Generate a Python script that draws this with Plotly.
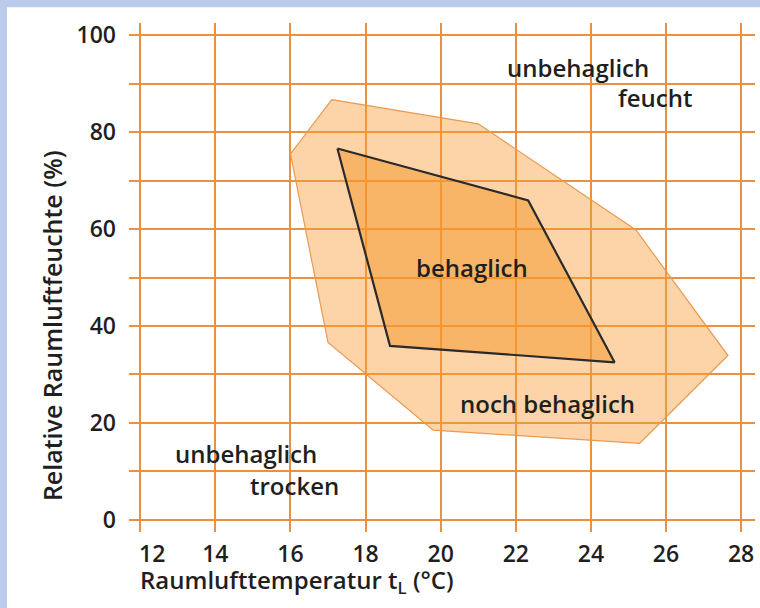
import plotly.graph_objects as go

# --- data ---
outer_t = [17.1, 21.0, 25.2, 27.65, 25.3, 19.8, 17.0, 16.0]
outer_rh = [86.7, 81.7, 59.8, 33.9, 15.8, 18.5, 36.6, 75.5]
inner_t = [17.25, 22.33, 24.63, 18.65]
inner_rh = [76.6, 65.9, 32.5, 35.9]
x_ticks = [12, 14, 16, 18, 20, 22, 24, 26, 28]
x_ticktext = ["&nbsp;&nbsp;&nbsp;&nbsp;12", "14", "16", "18", "20", "22", "24", "26", "28"]
y_ticks = [0, 20, 40, 60, 80, 100]
region_labels = ["unbehaglich", "feucht", "behaglich", "noch behaglich", "unbehaglich", "trocken"]
label_t = [23.65, 25.7, 20.83, 22.85, 14.82, 16.12]
label_rh = [93.3, 87.2, 52.1, 24.1, 13.6, 7.0]

FONT = "Open Sans"
TXT = "#1f1f1f"
GRID = "#EA9141"

fig = go.Figure()
fig.add_trace(go.Scatter(
    x=outer_t + outer_t[:1], y=outer_rh + outer_rh[:1], mode="lines",
    fill="toself", fillcolor="rgba(248,160,60,0.45)",
    line=dict(color="#E99A50", width=1.2), hoverinfo="skip", showlegend=False))
fig.add_trace(go.Scatter(
    x=inner_t + inner_t[:1], y=inner_rh + inner_rh[:1], mode="lines",
    fill="toself", fillcolor="rgba(245,150,40,0.5)",
    line=dict(color="#2a2a2a", width=2.2), hoverinfo="skip", showlegend=False))

for txt, xt, yt in zip(region_labels, label_t, label_rh):
    fig.add_annotation(x=xt, y=yt, xref="x", yref="y", text=txt, showarrow=False,
                       font=dict(family=FONT, size=24, color=TXT, weight=600))

fig.add_annotation(xref="paper", yref="paper", x=0.0144, y=-0.097,
                   xanchor="left", yanchor="middle", showarrow=False,
                   text="Raumlufttemperatur t<sub>L</sub> (°C)",
                   font=dict(family=FONT, size=24, color=TXT, weight=600))
fig.add_annotation(xref="paper", yref="paper", x=-0.123, y=0.4045,
                   xanchor="center", yanchor="middle", showarrow=False, textangle=-90,
                   text="Relative Raumluftfeuchte (%)",
                   font=dict(family=FONT, size=25, color=TXT, weight=600))

# frame: light blue strips top and left
fig.add_shape(type="rect", xref="paper", yref="paper", layer="below",
              x0=-0.195, x1=1.03, y0=-0.2, y1=1.031,
              fillcolor="white", line=dict(width=0))

fig.update_layout(
    width=760, height=608,
    margin=dict(l=129, r=5, t=23, b=76),
    paper_bgcolor="#BACBEC", plot_bgcolor="white",
    xaxis=dict(range=[11.7, 28.37], tickvals=x_ticks, ticktext=x_ticktext,
               showgrid=True, gridcolor=GRID, gridwidth=2, zeroline=False,
               showline=False, ticks="", ticklabelstandoff=6, automargin=False,
               tickfont=dict(family=FONT, size=23, color=TXT, weight=600)),
    yaxis=dict(range=[-2.5, 102.5], tickvals=y_ticks,
               showgrid=True, gridcolor=GRID, gridwidth=2, zeroline=False,
               showline=False, ticks="", ticklabelstandoff=12, automargin=False,
               tickfont=dict(family=FONT, size=23, color=TXT, weight=600)),
)
fig.update_yaxes(minor=dict(dtick=10, showgrid=True, gridcolor=GRID, gridwidth=2, tick0=0))

fig.write_html("out.html", config={"displayModeBar": False},
               post_script="document.body.style.margin='0';document.body.style.overflow='hidden';")
